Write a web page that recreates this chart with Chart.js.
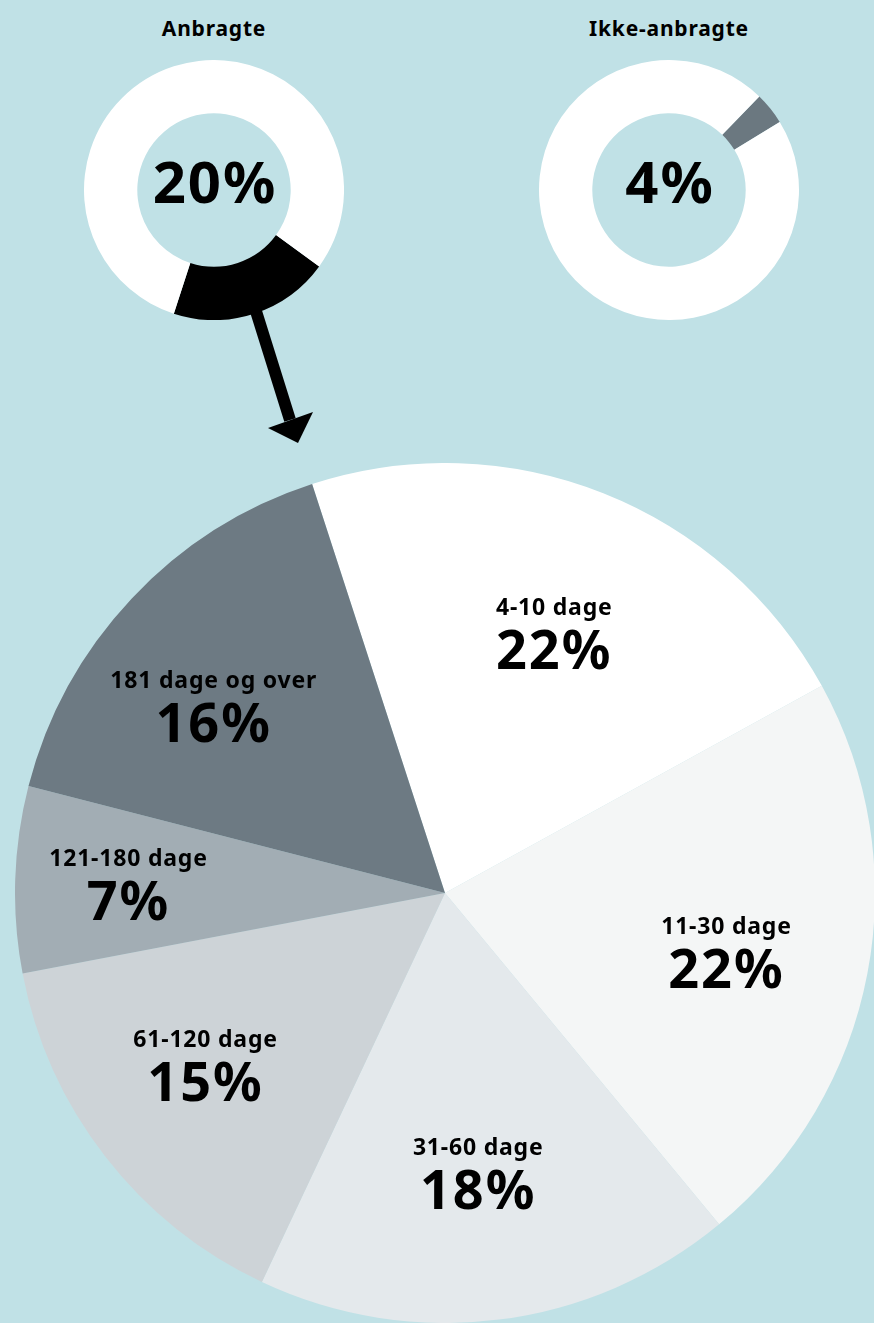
<!DOCTYPE html>
<html>
<head>
<meta charset="utf-8">
<script src="https://cdn.jsdelivr.net/npm/chart.js@4.4.1/dist/chart.umd.min.js"></script>
<style>
  html, body { margin: 0; padding: 0; }
  body { width: 874px; height: 1323px; background: #c0e1e6; position: relative; overflow: hidden; }
  canvas { position: absolute; }
  .title { position: absolute; font-family: "Noto Sans", sans-serif; font-weight: bold; font-size: 21px; letter-spacing: 0.8px; color: #000; text-align: center; width: 260px; top: 14px; }
  svg { position: absolute; left: 0; top: 0; }
</style>
</head>
<body>
<div class="title" style="left:84px">Anbragte</div>
<div class="title" style="left:539px">Ikke-anbragte</div>
<canvas id="donut_left" width="260" height="260" style="left:84px;top:60px"></canvas>
<canvas id="donut_right" width="260" height="260" style="left:539px;top:60px"></canvas>
<canvas id="pie_main" width="860" height="860" style="left:15px;top:463px"></canvas>
<svg width="874" height="460">
  <line x1="255" y1="308" x2="290" y2="420" stroke="#000" stroke-width="12"/>
  <polygon points="268,428 313,412 298,443" fill="#000"/>
</svg>
<script>
var donutLabels = ['Andel', 'Resten'];
var anbragteValues = [20, 80];
var ikkeAnbragteValues = [4, 96];

var pieLabels = ['4-10 dage', '11-30 dage', '31-60 dage', '61-120 dage', '121-180 dage', '181 dage og over'];
var pieValues = [22, 22, 18, 15, 7, 16];
var pieColors = ['#ffffff', '#f4f6f6', '#e4e9ec', '#cdd3d7', '#a2adb4', '#6d7a83'];

var fontName = '"Noto Sans", sans-serif';

// tekst midt i donut
var centerText = {
    id: 'centerText',
    afterDraw: function (chart) {
        var c = chart.ctx;
        var arc = chart.getDatasetMeta(0).data[0];
        c.save();
        c.fillStyle = '#000';
        c.font = 'bold 58px ' + fontName;
        c.letterSpacing = '2px';
        c.textAlign = 'center';
        c.textBaseline = 'middle';
        c.fillText(chart.data.datasets[0].data[0] + '%', arc.x + 1, arc.y - 4);
        c.restore();
    }
};

// etiketter i lagkagen
var sliceText = {
    id: 'sliceText',
    afterDraw: function (chart) {
        var c = chart.ctx;
        var offsets = chart.options.plugins.sliceText.offsets;
        var meta = chart.getDatasetMeta(0);
        c.save();
        c.fillStyle = '#000';
        c.textAlign = 'center';
        c.textBaseline = 'middle';
        meta.data.forEach(function (arc, i) {
            var mid = (arc.startAngle + arc.endAngle) / 2;
            var r = arc.outerRadius * 0.69;
            var x = arc.x + Math.cos(mid) * r + offsets[i][0];
            var y = arc.y + Math.sin(mid) * r + offsets[i][1];
            c.font = 'bold 23px ' + fontName;
            c.letterSpacing = '0.8px';
            c.fillText(chart.data.labels[i], x, y - 24);
            c.font = 'bold 54px ' + fontName;
            c.letterSpacing = '2px';
            c.fillText(chart.data.datasets[0].data[i] + '%', x, y + 21);
        });
        c.restore();
    }
};

function makeDonut(id, values, color, rotation) {
    return new Chart(id, {
        type: 'doughnut',
        data: {
            labels: donutLabels,
            datasets: [{
                data: values,
                backgroundColor: [color, '#ffffff'],
                borderWidth: 0
            }]
        },
        options: {
            responsive: false,
            animation: false,
            cutout: '59%',
            rotation: rotation,
            plugins: { legend: { display: false }, tooltip: { enabled: false } }
        },
        plugins: [centerText]
    });
}

makeDonut('donut_left', anbragteValues, '#000000', 126);
makeDonut('donut_right', ikkeAnbragteValues, '#6b7880', 44);

new Chart('pie_main', {
    type: 'pie',
    data: {
        labels: pieLabels,
        datasets: [{
            data: pieValues,
            backgroundColor: pieColors,
            borderWidth: 0
        }]
    },
    options: {
        responsive: false,
        animation: false,
        rotation: -18,
        plugins: {
            legend: { display: false },
            tooltip: { enabled: false },
            sliceText: { offsets: [[0, 15], [-10, 3], [-4, -15], [-5, -10], [-20, 0], [-15, 16]] }
        }
    },
    plugins: [sliceText]
});
</script>
</body>
</html>
